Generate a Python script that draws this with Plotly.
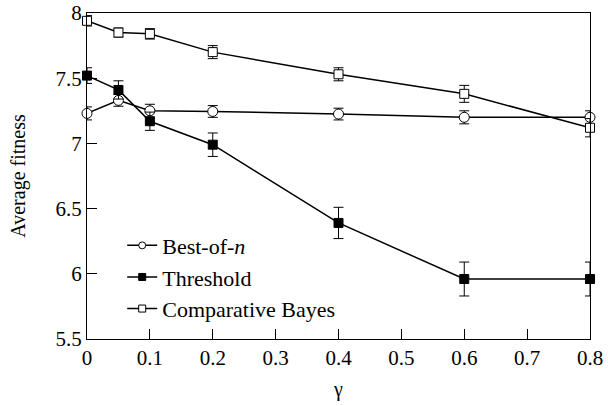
import plotly.graph_objects as go

gamma = [0, 0.05, 0.1, 0.2, 0.4, 0.6, 0.8]
best_of_n = [7.23, 7.33, 7.25, 7.245, 7.225, 7.20, 7.20]
best_of_n_err = [0.05, 0.045, 0.05, 0.045, 0.045, 0.05, 0.05]
threshold = [7.52, 7.41, 7.17, 6.99, 6.39, 5.96, 5.96]
threshold_err = [0.06, 0.07, 0.07, 0.09, 0.12, 0.13, 0.13]
bayes = [7.94, 7.85, 7.84, 7.70, 7.53, 7.38, 7.12]
bayes_err = [0.04, 0.035, 0.04, 0.05, 0.05, 0.065, 0.07]

x_ticks = [0, 0.1, 0.2, 0.3, 0.4, 0.5, 0.6, 0.7, 0.8]
x_tick_labels = ["0", "0.1", "0.2", "0.3", "0.4", "0.5", "0.6", "0.7", "0.8"]
y_ticks = [5.5, 6, 6.5, 7, 7.5, 8]
y_tick_labels = ["5.5", "6", "6.5", "7", "7.5", "8"]

font = "Liberation Serif"
fig = go.Figure()

def add(name, y, err, symbol, fill, size):
    fig.add_trace(go.Scatter(
        x=gamma, y=y, name=name, mode="lines+markers", showlegend=False,
        legendgroup=name,
        line=dict(color="black", width=1.5),
        marker=dict(symbol=symbol, size=size, color=fill,
                    line=dict(color="black", width=1)),
        error_y=dict(type="data", array=err, visible=True,
                     color="black", thickness=1, width=5),
        cliponaxis=False,
    ))
    # legend entry with smaller marker
    fig.add_trace(go.Scatter(
        x=[None], y=[None], name=name, mode="lines+markers", legendgroup=name,
        line=dict(color="black", width=1.5),
        marker=dict(symbol=symbol, size=7, color=fill,
                    line=dict(color="black", width=1)),
    ))

add("Best-of-<i>n</i>", best_of_n, best_of_n_err, "circle", "white", 10)
add("Threshold", threshold, threshold_err, "square", "black", 9)
add("Comparative Bayes", bayes, bayes_err, "square", "white", 9)

axis_common = dict(
    showline=True, linecolor="black", linewidth=1.2, mirror=True,
    ticks="inside", ticklen=10, tickcolor="black", tickwidth=1,
    showgrid=False, zeroline=False, automargin=False,
    tickfont=dict(family=font, size=21, color="black"),
)
fig.update_xaxes(range=[0, 0.8], tickmode="array", tickvals=x_ticks, ticktext=x_tick_labels,
                 tickangle=0,
                 title=dict(text="γ", font=dict(family=font, size=20, color="black"), standoff=12),
                 **axis_common)
fig.update_yaxes(range=[5.5, 8], tickmode="array", tickvals=y_ticks, ticktext=y_tick_labels,
                 title=dict(text="Average fitness", font=dict(family=font, size=20, color="black"), standoff=24),
                 **axis_common)

fig.update_layout(
    width=608, height=406,
    margin=dict(l=87, r=18, t=13, b=67),
    plot_bgcolor="white", paper_bgcolor="white",
    font=dict(family=font, color="black"),
    legend=dict(x=0.07, y=0.19, xanchor="left", yanchor="middle",
                font=dict(family=font, size=22, color="black"),
                bgcolor="rgba(0,0,0,0)", tracegroupgap=0,
                itemwidth=30),
)
fig.write_html("out.html")
